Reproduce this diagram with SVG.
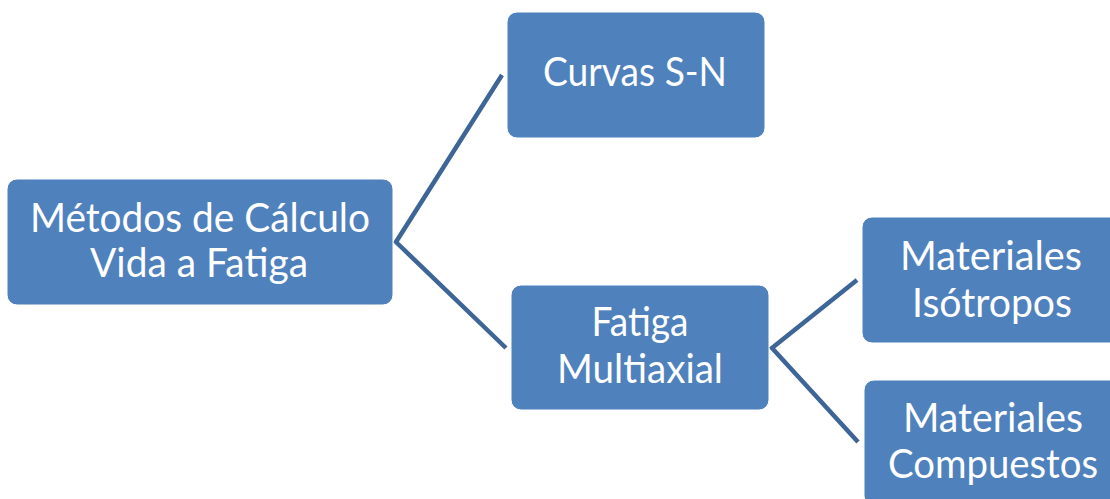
<svg xmlns="http://www.w3.org/2000/svg" width="1110" height="499" viewBox="0 0 1110 499">
<style>
.node{fill:#4f81bd;stroke:#ffffff;stroke-width:1}
.lbl{font-family:Lato,"Open Sans","Liberation Sans",sans-serif;font-size:40px;fill:#ffffff;text-anchor:middle}
.conn{fill:none;stroke:#3d6596;stroke-width:4.5;stroke-linejoin:miter}
</style>
<rect width="1110" height="499" fill="#ffffff"/>
<g id="connectors">
<polyline class="conn" points="502,75 396,242 506,348"/>
<polyline class="conn" points="857,280 772,348 858,442"/>
</g>
<g id="node-root">
<rect class="node" x="7" y="179" width="386" height="126" rx="10"/>
<text class="lbl" x="200" y="232" textLength="340" lengthAdjust="spacingAndGlyphs">Métodos de Cálculo</text>
<text class="lbl" x="199" y="277" textLength="218" lengthAdjust="spacingAndGlyphs">Vida a Fatiga</text>
</g>
<g id="node-curvas">
<rect class="node" x="507" y="12" width="258" height="126" rx="10"/>
<text class="lbl" x="635" y="86" textLength="184" lengthAdjust="spacingAndGlyphs">Curvas S-N</text>
</g>
<g id="node-multiaxial">
<rect class="node" x="511" y="285" width="258" height="125" rx="10"/>
<text class="lbl" x="640" y="336" textLength="97" lengthAdjust="spacingAndGlyphs">Fatiga</text>
<text class="lbl" x="640" y="383" textLength="166" lengthAdjust="spacingAndGlyphs">Multiaxial</text>
</g>
<g id="node-isotropos">
<rect class="node" x="862" y="217" width="260" height="126" rx="10"/>
<text class="lbl" x="991" y="270" textLength="182" lengthAdjust="spacingAndGlyphs">Materiales</text>
<text class="lbl" x="992" y="317" textLength="160" lengthAdjust="spacingAndGlyphs">Isótropos</text>
</g>
<g id="node-compuestos">
<rect class="node" x="864" y="380" width="260" height="126" rx="10"/>
<text class="lbl" x="993" y="432" textLength="180" lengthAdjust="spacingAndGlyphs">Materiales</text>
<text class="lbl" x="993" y="478" textLength="210" lengthAdjust="spacingAndGlyphs">Compuestos</text>
</g>
</svg>
